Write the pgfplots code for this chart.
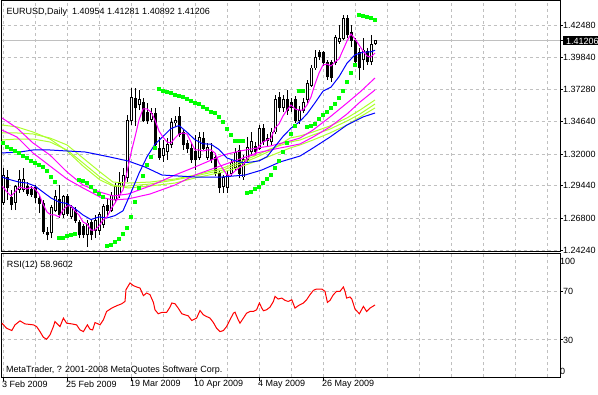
\documentclass[border=0pt]{standalone}
\usepackage{pgfplots}
\pgfplotsset{compat=1.18}
\usepackage{pgfplotstable}
\usepackage{fontspec}
\setmainfont{Liberation Sans}
\definecolor{mtgreen}{RGB}{173,255,47}
\definecolor{mtlime}{RGB}{0,255,0}
\definecolor{mtmag}{RGB}{255,0,255}
\definecolor{mtblue}{RGB}{0,0,255}
\definecolor{mtgrid}{RGB}{192,192,192}
\definecolor{mtred}{RGB}{255,0,0}

\pgfplotstableread{
i O H L C
0 1.2813 1.3089 1.2789 1.3032
1 1.3016 1.3073 1.2830 1.2927
2 1.2846 1.2911 1.2748 1.2789
3 1.2813 1.2951 1.2748 1.2935
4 1.2911 1.3073 1.2886 1.2992
5 1.2911 1.3089 1.2894 1.2992
6 1.2935 1.2975 1.2862 1.2886
7 1.2911 1.2943 1.2854 1.2878
8 1.2927 1.2951 1.2805 1.2846
9 1.2838 1.2870 1.2724 1.2805
10 1.2805 1.2830 1.2554 1.2570
11 1.2570 1.2611 1.2505 1.2546
12 1.2562 1.2789 1.2521 1.2765
13 1.2748 1.2911 1.2732 1.2854
14 1.2830 1.2951 1.2684 1.2708
15 1.2708 1.2870 1.2684 1.2854
16 1.2854 1.2878 1.2700 1.2724
17 1.2692 1.2789 1.2675 1.2765
18 1.2748 1.2773 1.2643 1.2667
19 1.2651 1.2667 1.2521 1.2546
20 1.2611 1.2635 1.2521 1.2546
21 1.2546 1.2667 1.2448 1.2643
22 1.2651 1.2675 1.2505 1.2546
23 1.2586 1.2708 1.2521 1.2667
24 1.2586 1.2732 1.2546 1.2708
25 1.2627 1.2797 1.2602 1.2773
26 1.2789 1.2846 1.2700 1.2748
27 1.2748 1.2894 1.2732 1.2870
28 1.2830 1.2967 1.2805 1.2935
29 1.2870 1.3057 1.2846 1.2967
30 1.2951 1.3089 1.2935 1.3032
31 1.3008 1.3519 1.2975 1.3478
32 1.3478 1.3738 1.3438 1.3657
33 1.3649 1.3738 1.3430 1.3576
34 1.3600 1.3722 1.3559 1.3641
35 1.3624 1.3657 1.3462 1.3478
36 1.3543 1.3616 1.3446 1.3478
37 1.3486 1.3576 1.3462 1.3535
38 1.3535 1.3576 1.3259 1.3276
39 1.3251 1.3340 1.3154 1.3178
40 1.3194 1.3316 1.3138 1.3251
41 1.3219 1.3332 1.3154 1.3276
42 1.3276 1.3495 1.3251 1.3462
43 1.3454 1.3511 1.3422 1.3478
44 1.3503 1.3584 1.3340 1.3357
45 1.3373 1.3397 1.3235 1.3276
46 1.3284 1.3316 1.3211 1.3251
47 1.3251 1.3292 1.3130 1.3154
48 1.3219 1.3357 1.3073 1.3154
49 1.3178 1.3381 1.3154 1.3340
50 1.3332 1.3381 1.3235 1.3251
51 1.3178 1.3292 1.3154 1.3259
52 1.3211 1.3292 1.3130 1.3154
53 1.3178 1.3211 1.3024 1.3048
54 1.3048 1.3073 1.2886 1.2927
55 1.2935 1.3032 1.2886 1.3008
56 1.2927 1.3073 1.2886 1.3032
57 1.3048 1.3154 1.3024 1.3130
58 1.3097 1.3251 1.3073 1.3211
59 1.3235 1.3276 1.3008 1.3048
60 1.3016 1.3194 1.2992 1.3154
61 1.3154 1.3340 1.3138 1.3259
62 1.3219 1.3381 1.3186 1.3300
63 1.3267 1.3300 1.3186 1.3219
64 1.3251 1.3438 1.3235 1.3413
65 1.3413 1.3446 1.3276 1.3300
66 1.3316 1.3365 1.3267 1.3332
67 1.3300 1.3413 1.3276 1.3381
68 1.3381 1.3681 1.3365 1.3641
69 1.3657 1.3705 1.3543 1.3576
70 1.3576 1.3681 1.3543 1.3641
71 1.3641 1.3722 1.3519 1.3559
72 1.3624 1.3657 1.3543 1.3576
73 1.3641 1.3673 1.3454 1.3478
74 1.3478 1.3592 1.3446 1.3559
75 1.3559 1.3657 1.3535 1.3624
76 1.3641 1.3803 1.3616 1.3778
77 1.3762 1.3924 1.3746 1.3900
78 1.3900 1.4046 1.3884 1.3989
79 1.4022 1.4046 1.3965 1.3997
80 1.4022 1.4038 1.3916 1.3941
81 1.3941 1.3965 1.3803 1.3827
82 1.3941 1.3965 1.3786 1.3819
83 1.3941 1.4168 1.3924 1.4151
84 1.4111 1.4249 1.4095 1.4143
85 1.4143 1.4330 1.4127 1.4305
86 1.4305 1.4330 1.4143 1.4168
87 1.4184 1.4249 1.4070 1.4127
88 1.4127 1.4143 1.3908 1.3949
89 1.4022 1.4062 1.3803 1.3900
90 1.3965 1.4143 1.3884 1.4046
91 1.4030 1.4062 1.3924 1.3949
92 1.3949 1.4168 1.3924 1.4087
93 1.40954 1.41281 1.40892 1.41206
}\candles

\pgfplotstableread{
i M2 M3 G1 G2 G3
-0.25 1.3495 1.3397 1.3438 1.3373 1.3316
3.5 1.3413 1.3340 1.3422 1.3373 1.3324
7.5 1.3292 1.3211 1.3381 1.3365 1.3324
11.75 1.3194 1.3105 1.3324 1.3332 1.3300
16 1.3057 1.3000 1.3227 1.3276 1.3235
20 1.2951 1.2927 1.3105 1.3170 1.3130
24.25 1.2894 1.2854 1.2992 1.3057 1.3016
27.5 1.2862 1.2830 1.2943 1.2975 1.2951
31.25 1.2878 1.2838 1.2943 1.2967 1.2927
36.75 1.2943 1.2878 1.2959 1.2975 1.2943
43 1.3032 1.2951 1.2992 1.3000 1.2967
48 1.3097 1.3032 1.3024 1.3032 1.3008
55 1.3194 1.3113 1.3073 1.3089 1.3057
59.25 1.3227 1.3162 1.3121 1.3138 1.3097
63.5 1.3251 1.3211 1.3178 1.3194 1.3146
66.75 1.3267 1.3235 1.3227 1.3243 1.3186
71.75 1.3308 1.3267 1.3332 1.3300 1.3251
74.25 1.3332 1.3284 1.3349 1.3316 1.3276
77.5 1.3397 1.3340 1.3381 1.3357 1.3316
81.75 1.3503 1.3422 1.3430 1.3405 1.3373
86 1.3616 1.3527 1.3495 1.3470 1.3438
89.25 1.3705 1.3624 1.3559 1.3527 1.3503
93 1.3819 1.3722 1.3641 1.3608 1.3576
}\fan

\begin{document}
\begin{tikzpicture}
\useasboundingbox (0,0) rectangle (598bp,395bp);
\begin{axis}[
  at={(1.5bp,143bp)}, anchor=south west, scale only axis,
  width=558.5bp, height=251bp,
  xmin=-0.375, xmax=139.25, ymin=1.24078, ymax=1.44434,
  axis line style={black, line width=1bp},
  xtick={0,8,...,136}, xticklabel=\empty, xtick style={draw=none},
  ytick={1.2424,1.268,1.2944,1.32,1.3464,1.3728,1.3984,1.4248},
  yticklabels={1.24240,1.26800,1.29440,1.32000,1.34640,1.37280,1.39840,1.42480},
  ytick pos=right, yticklabel pos=right, tick align=outside,
  major tick length=3bp, ytick style={black, line width=1bp},
  grid=major, major grid style={mtgrid, dash pattern=on 3bp off 3bp, line width=1bp},
  yticklabel style={font=\fontsize{9bp}{10bp}\selectfont, anchor=west, inner sep=0pt},
  extra y ticks={1.41206}, extra y tick labels={1.41206},
  extra y tick style={major grid style={solid, mtgrid, line width=1bp},
    yticklabel style={fill=black, text=white, inner xsep=3bp, inner ysep=1.25bp, text height=6.5bp, text depth=0pt}},
]
\addplot[draw=none, mark=none, forget plot, error bars/.cd, y dir=plus, y explicit, error mark=none,
  error bar style={draw=black, line width=1bp}]
  table[x=i, y=L, y error expr={\thisrow{H}-\thisrow{L}}] {\candles};
\addplot[draw=none, mark=none, forget plot, error bars/.cd, y dir=plus, y explicit, error mark=none,
  error bar style={draw=black, line width=3bp}]
  table[x=i, y expr={min(\thisrow{O},\thisrow{C})-0.0004}, y error expr={abs(\thisrow{C}-\thisrow{O})+0.0008}] {\candles};
\addplot[draw=none, mark=none, forget plot, error bars/.cd, y dir=plus, y explicit, error mark=none,
  error bar style={draw=white, line width=1bp}]
  table[x=i, y expr={\thisrow{O}+0.0004}, y error expr={max(\thisrow{C}-\thisrow{O}-0.0008,0)}] {\candles};

\addplot[mtgreen, line width=1bp] table[x=i, y=G3] {\fan};
\addplot[mtgreen, line width=1bp] table[x=i, y=G2] {\fan};
\addplot[mtgreen, line width=1bp] table[x=i, y=G1] {\fan};
\addplot[mtmag, line width=1bp] table[x=i, y=M3] {\fan};
\addplot[mtmag, line width=1bp] table[x=i, y=M2] {\fan};

% slow blue
\addplot[mtblue, line width=1bp] coordinates {(-0.25,1.3211) (4.25,1.3219) (7.5,1.3235) (11.75,1.3235) (16,1.3227) (20.5,1.3219) (23,1.3203) (26.75,1.3178) (31.25,1.3146) (35.5,1.3097) (39.75,1.3032) (48,1.3016) (54.75,1.3016) (60.5,1.3032) (64.75,1.3073) (69.25,1.3138) (74.25,1.3186) (77.5,1.3251) (81.75,1.3340) (86,1.3438) (90,1.3503) (93,1.3535)};
% fast blue
\addplot[mtblue, line width=1bp] coordinates {(-0.25,1.3016) (2,1.2992) (4,1.2975) (6,1.2967) (8,1.2943) (10,1.2894) (12,1.2846) (14,1.2813) (16,1.2801) (18,1.2759) (20,1.2708) (22,1.2671) (24,1.2692) (26,1.2684) (28,1.2703) (30,1.2742) (32,1.2890) (34,1.3046) (36,1.3180) (38,1.3282) (40,1.3345) (42,1.3409) (44,1.3434) (46,1.3379) (48,1.3318) (50,1.3285) (52,1.3282) (54,1.3239) (56,1.3170) (58,1.3148) (60,1.3132) (62,1.3137) (64,1.3147) (66,1.3180) (68,1.3263) (70,1.3345) (72,1.3412) (74,1.3460) (76,1.3528) (78,1.3618) (80,1.3712) (82,1.3745) (84,1.3829) (86,1.3939) (88,1.4007) (90,1.4028) (92,1.4031) (93,1.4044)};
% fast magenta
\addplot[mtmag, line width=1bp] coordinates {(-0.25,1.2935) (0,1.2935) (1,1.2894) (2,1.2862) (3,1.2894) (4,1.2935) (5,1.2927) (6,1.2919) (7,1.2935) (8,1.2919) (9,1.2878) (10,1.2797) (11,1.2732) (12,1.2708) (13,1.2708) (14,1.2692) (15,1.2748) (16,1.2781) (17,1.2781) (18,1.2740) (19,1.2708) (20,1.2651) (21,1.2635) (22,1.2586) (23,1.2586) (24,1.2619) (25,1.2667) (26,1.2692) (27,1.2757) (28,1.2805) (29,1.2862) (30,1.2911) (31,1.3057) (32,1.3211) (33,1.3340) (34,1.3478) (35,1.3568) (36,1.3568) (37,1.3543) (38,1.3478) (39,1.3389) (40,1.3340) (41,1.3300) (42,1.3292) (43,1.3332) (44,1.3365) (45,1.3373) (46,1.3365) (47,1.3300) (48,1.3235) (49,1.3235) (50,1.3227) (51,1.3235) (52,1.3235) (53,1.3211) (54,1.3130) (55,1.3081) (56,1.3032) (57,1.3032) (58,1.3065) (59,1.3089) (60,1.3113) (61,1.3162) (62,1.3194) (63,1.3194) (64,1.3267) (65,1.3300) (66,1.3316) (67,1.3332) (68,1.3413) (69,1.3446) (70,1.3511) (71,1.3559) (72,1.3600) (73,1.3568) (74,1.3559) (75,1.3559) (76,1.3600) (77,1.3665) (78,1.3770) (79,1.3859) (80,1.3924) (81,1.3932) (82,1.3916) (83,1.3949) (84,1.3973) (85,1.4046) (86,1.4119) (87,1.4176) (88,1.4135) (89,1.4087) (90,1.4038) (91,1.3997) (92,1.3989) (93,1.4022)};
% parabolic SAR
\addplot[mtlime, only marks, mark=square*, mark size=1.5bp, mark options={draw=mtlime, fill=mtlime, line width=0pt}] coordinates {
(0,1.3292) (1,1.3259) (2,1.3243) (3,1.3227) (4,1.3211) (5,1.3186) (6,1.3170) (7,1.3146) (8,1.3130) (9,1.3113) (10,1.3097) (11,1.3065) (12,1.3016) (13,1.2975)
(14,1.2521) (15,1.2521) (16,1.2538) (17,1.2546) (18,1.2554)
(19,1.2992) (20,1.2984) (21,1.2967) (22,1.2935) (23,1.2902) (24,1.2878) (25,1.2854)
(26,1.2456) (27,1.2465) (28,1.2489) (29,1.2513) (30,1.2554) (31,1.2602) (32,1.2692) (33,1.2813) (34,1.2927) (35,1.3024) (36,1.3113) (37,1.3178) (38,1.3251)
(39,1.3730) (40,1.3713) (41,1.3705) (42,1.3697) (43,1.3681) (44,1.3673) (45,1.3665) (46,1.3649) (47,1.3632) (48,1.3616) (49,1.3608) (50,1.3584) (51,1.3568) (52,1.3543) (53,1.3535) (54,1.3503) (55,1.3462) (56,1.3405) (57,1.3357) (58,1.3308) (59,1.3308) (60,1.3308)
(61,1.2886) (62,1.2894) (63,1.2919) (64,1.2935) (65,1.2967) (66,1.3000) (67,1.3032) (68,1.3089) (69,1.3146) (70,1.3219) (71,1.3292) (72,1.3365) (73,1.3430)
(74,1.3713) (75,1.3713)
(76,1.3422) (77,1.3430) (78,1.3446) (79,1.3486) (80,1.3519) (81,1.3543) (82,1.3576) (83,1.3608) (84,1.3657) (85,1.3713) (86,1.3786) (87,1.3859) (88,1.3924)
(89,1.4330) (90,1.4322) (91,1.4314) (92,1.4305) (93,1.4289)};
\end{axis}

\begin{axis}[
  at={(1.5bp,17.5bp)}, anchor=south west, scale only axis,
  width=558.5bp, height=123.5bp,
  xmin=-0.375, xmax=139.25, ymin=-1.1, ymax=101.2,
  axis line style={black, line width=1bp},
  xtick={0,16,...,80},
  xticklabels={3 Feb 2009, 25 Feb 2009, 19 Mar 2009, 10 Apr 2009, 4 May 2009, 26 May 2009},
  minor xtick={8,24,40,56,72,88,96,104,112,120,128,136},
  xtick pos=bottom, tick align=outside, major tick length=3bp, minor tick length=0pt,
  tick style={black, line width=1bp},
  ytick={30,70}, yticklabels={30,70}, ytick pos=right, yticklabel pos=right,
  extra y ticks={4.3,95.4}, extra y tick labels={0,100},
  extra y tick style={grid=none, major tick length=0pt},
  grid=both, major grid style={mtgrid, dash pattern=on 3bp off 3bp, line width=1bp},
  minor grid style={mtgrid, dash pattern=on 3bp off 3bp, line width=1bp},
  yticklabel style={font=\fontsize{9bp}{10bp}\selectfont, anchor=west, inner sep=0pt},
  xticklabel style={font=\fontsize{9bp}{10bp}\selectfont, anchor=north west, inner sep=0pt, xshift=-1bp},
]
\addplot[mtred, line width=1bp] coordinates {
(-0.3,44) (0.9,39.7) (2.2,37.8) (3,42.5) (4.25,45.8) (5.5,43.3) (7.6,42.5) (8.4,41.1) (9.25,36.9) (10.1,32.2) (10.9,30.6) (11.75,34.2) (12.6,41.1) (13,45.3) (13.8,42.5) (14.25,41.1) (15.1,48.1) (15.9,43.9) (17.2,43.3) (18.4,42.5) (19.25,38.3) (20.1,36.9) (20.75,40.6) (21.1,42.5) (21.75,38.9) (22.4,38.3) (23,44.4) (23.8,43.3) (24.25,42.5) (25.1,46.7) (25.9,53.6) (27.2,56.4) (28.4,58.3) (29.7,60) (30.5,61.9) (30.75,71.7) (31.75,77.2) (32.6,75) (33.4,73.9) (34.25,73) (35.1,66.7) (35.9,68.9) (36.75,67.5) (37.6,61.1) (38,55) (38.8,51.7) (39.7,52.8) (40.9,52.8) (41.75,57.2) (42.2,60.6) (43,60) (43.8,56.4) (44.7,51.7) (45.5,50.8) (46.3,50) (47.2,46.1) (48.4,48.1) (49.25,54.4) (50.1,50.8) (50.9,49.4) (51.75,48.1) (52.6,44.4) (53.4,39.7) (54.25,36.9) (55.1,37.8) (55.9,41.1) (56.75,46.7) (57.6,52.2) (58,53) (58.8,46.7) (59.25,43.9) (60.1,48.1) (60.9,52.2) (61.75,53.6) (62.6,53.6) (63.4,55) (64.1,60.6) (64.7,56.4) (65.1,54.2) (65.9,55) (66.75,57.2) (67.6,61.9) (68,66.1) (68.8,63.9) (69.7,64.7) (70.5,62.8) (71.3,61.9) (72.2,63.3) (73,56.4) (73.8,58.3) (74.25,59.2) (75.1,60.6) (75.9,63.3) (76.75,67.5) (77.6,71.1) (78.4,72.2) (79.7,72.2) (80.5,70.3) (81.1,61.1) (81.75,62.8) (82.6,67.5) (83.4,70.3) (84.25,70.3) (85.1,73.9) (85.5,70.3) (85.9,64.7) (86.75,65.6) (87.2,63.9) (88,55.6) (89.1,51.7) (90.1,57.8) (90.9,53.6) (91.75,56.4) (93,58.96)};
\end{axis}

\node[anchor=base west, inner sep=0pt, font=\fontsize{9bp}{10bp}\selectfont] at (6.5bp,380.7bp) {EURUSD,Daily\ \ 1.40954 1.41281 1.40892 1.41206};
\node[anchor=base west, inner sep=0pt, font=\fontsize{9bp}{10bp}\selectfont] at (6.7bp,127.3bp) {RSI(12) 58.9602};
\node[anchor=base west, inner sep=0pt, font=\fontsize{9bp}{10bp}\selectfont] at (6bp,23bp) {MetaTrader, ? 2001-2008 MetaQuotes Software Corp.};
\end{tikzpicture}
\end{document}
